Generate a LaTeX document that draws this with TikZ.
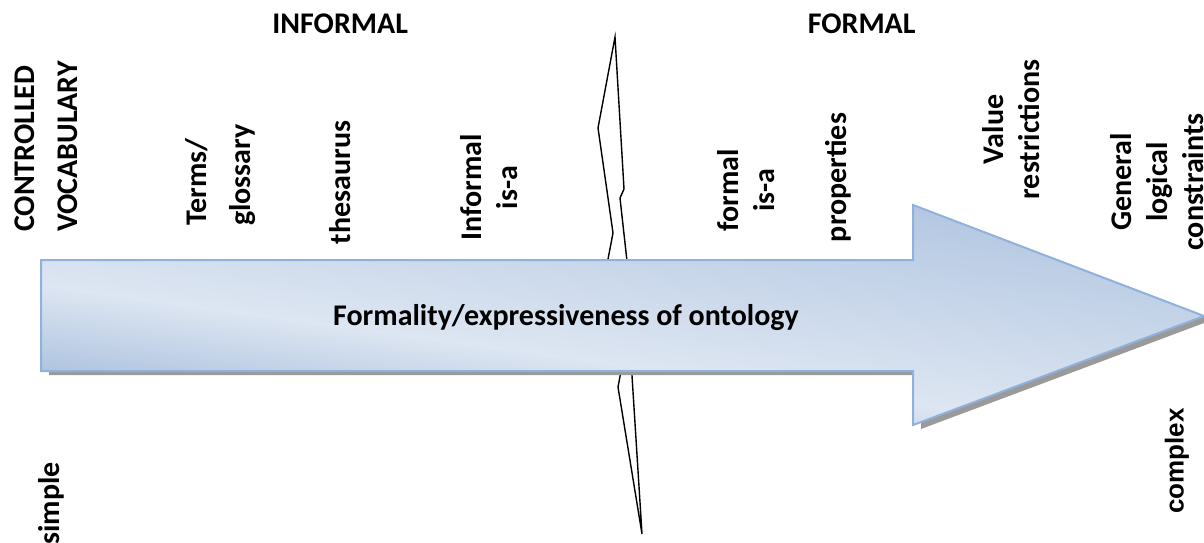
\documentclass[tikz,border=0pt]{standalone}
\usepackage{fontspec}
\setmainfont{Carlito}
\newfontfamily\arialfont{Liberation Sans}
\definecolor{adark}{HTML}{A7BEDD}
\definecolor{alight}{HTML}{DDE6F2}
\definecolor{aborder}{HTML}{8FB1DA}
\definecolor{ashadow}{HTML}{9A9A9A}
\newcommand\arrowshape{(41,260) -- (913,260) -- (913,205) -- (1204,316) -- (913,425) -- (913,371) -- (41,371) -- cycle}
\begin{document}
\begin{tikzpicture}[x=0.5pt,y=-0.5pt,
  lbl/.style={font=\bfseries\fontsize{15}{18}\selectfont, inner sep=0pt, rotate=90, align=center},
  head/.style={font=\bfseries\fontsize{15}{18}\selectfont, inner sep=0pt},
  breakline/.style={black, line width=0.7pt, line join=miter}]
\useasboundingbox (0,0) rectangle (1204,542);
\fill[white] (0,0) rectangle (1204,542);
% break symbol behind the arrow
\draw[breakline] (615,37) -- (598,128) -- (613,233) -- (604,280) -- (622,366) -- (618,387) -- (642,534)
  -- (631,360) -- (628,270) -- (620,198) -- (624,189) -- cycle;
% shadow
\fill[ashadow, shift={(8,4)}] \arrowshape;
% gradient body
\begin{scope}
  \clip \arrowshape;
  \fill[adark] (0,150) rectangle (1204,450);
  \begin{scope}[transform canvas={shift={(41,285)}, rotate=-7.8}]
    \shade[top color=adark, bottom color=alight] (-300,-260) rectangle (1500,1);
    \shade[top color=alight, bottom color=adark] (-300,0) rectangle (1500,100);
  \end{scope}
\end{scope}
\draw[aborder, line width=1pt, line join=miter] \arrowshape;
\node[head, anchor=base] (main) at (566,325) {Formality/expressiveness of ontology};
% headings
\node[head, anchor=base west] (informal) at (272,33) {INFORMAL};
\node[head, anchor=base east] (formal) at (916,33) {FORMAL};
% rotated labels
\node[lbl, align=left, font=\bfseries\fontsize{15}{21.5}\selectfont] (cv) at (46.5,146.5) {CONTROLLED\\VOCABULARY};
\node[lbl, align=left, font=\bfseries\fontsize{15}{22}\selectfont] (terms) at (221,175) {Terms/\\glossary};
\node[lbl] (thes) at (340,182.5) {thesaurus};
\node[lbl] (infisa) at (489.5,187.5) {Informal\\is-a};
\node[lbl] (formisa) at (746.5,190) {formal\\is-a};
\node[lbl] (props) at (838,177.5) {properties};
\node[lbl] (valres) at (1011,129.5) {Value\\restrictions};
\node[lbl] (genlog) at (1157,182) {General\\logical\\constraints};
\node[lbl, anchor=base west] (simple) at (59,545) {simple};
\node[lbl, font=\arialfont\bfseries\fontsize{13}{16}\selectfont] (complex) at (1177,461) {complex};
\end{tikzpicture}
\end{document}
